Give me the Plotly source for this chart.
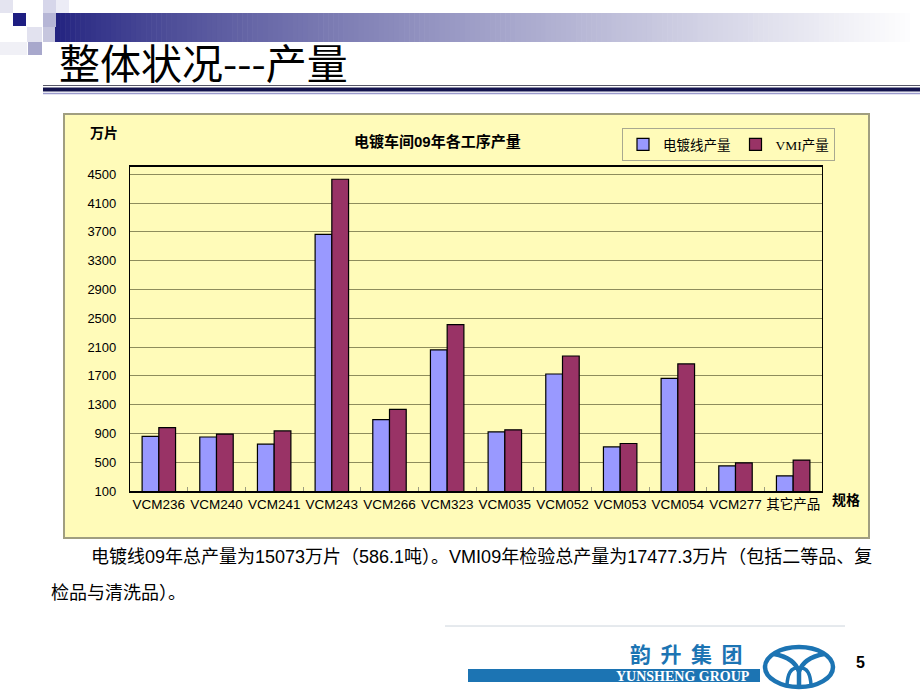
import plotly.graph_objects as go

categories = ["VCM236", "VCM240", "VCM241", "VCM243", "VCM266", "VCM323",
              "VCM035", "VCM052", "VCM053", "VCM054", "VCM277", "其它产品"]
line_output = [860, 850, 750, 3665, 1090, 2060, 920, 1725, 712, 1665, 448, 310]
vmi_output = [980, 890, 935, 4430, 1235, 2410, 950, 1975, 760, 1865, 490, 530]
y_ticks = [100, 500, 900, 1300, 1700, 2100, 2500, 2900, 3300, 3700, 4100, 4500]

W, H = 920, 690
def px(x): return x / W
def py(y): return 1 - y / H

CJK = "Liberation Sans, Arial, Noto Sans CJK SC"
YEL = "#FFFBB9"
BLUE_LOGO = "#1C74B3"

fig = go.Figure()
fig.add_trace(go.Bar(name="电镀线产量", x=categories, y=line_output,
                     marker=dict(color="#9999FF", line=dict(color="#000000", width=1.2))))
fig.add_trace(go.Bar(name="VMI产量", x=categories, y=vmi_output,
                     marker=dict(color="#993366", line=dict(color="#000000", width=1.2))))

shapes = []
shapes.append(dict(type="rect", xref="paper", yref="paper", layer="below",
                   x0=px(64), x1=px(869), y0=py(538), y1=py(114),
                   fillcolor=YEL, line=dict(color="#A09E80", width=2)))
N = 170
x_start, x_end = 55, 915
for i in range(N):
    t = i / (N - 1)
    g = t ** 0.8
    r = int(35 + (255 - 35) * g)
    gg = int(35 + (255 - 35) * g)
    b = int(128 + (255 - 128) * g)
    xa = x_start + (x_end - x_start) * i / N
    xb = x_start + (x_end - x_start) * (i + 1) / N + 0.6
    shapes.append(dict(type="rect", xref="paper", yref="paper", layer="below",
                       x0=px(xa), x1=px(xb), y0=py(42), y1=py(13),
                       fillcolor=f"rgb({r},{gg},{b})", line=dict(width=0)))
squares = [
    (0, 0, 13, 13, "#E4E4F0"), (13, 13, 26, 26, "#1E1E82"), (43, 0, 56, 13, "#D6D6EA"),
    (56, 0, 69, 13, "#ECECF6"), (43, 13, 56, 27, "#B6B6D6"), (27, 27, 42, 42, "#E2E2EF"),
    (28, 42, 42, 55, "#A8A8CC"), (0, 42, 27, 55, "#F0F0F6"), (43, 27, 55, 42, "#C6C6DE"),
]
for x0, y0, x1, y1, c in squares:
    shapes.append(dict(type="rect", xref="paper", yref="paper", layer="below",
                       x0=px(x0), x1=px(x1), y0=py(y1), y1=py(y0),
                       fillcolor=c, line=dict(width=0)))
shapes.append(dict(type="line", xref="paper", yref="paper", x0=px(43), x1=px(920),
                   y0=py(85.5), y1=py(85.5), line=dict(color="#555566", width=1)))
shapes.append(dict(type="rect", xref="paper", yref="paper", x0=px(43), x1=px(920),
                   y0=py(91.5), y1=py(87.5), fillcolor="#14144E", line=dict(width=0)))
shapes.append(dict(type="line", xref="paper", yref="paper", x0=px(43), x1=px(920),
                   y0=py(93.5), y1=py(93.5), line=dict(color="#9A9ACC", width=1.5)))
shapes.append(dict(type="line", xref="paper", yref="paper", x0=px(445), x1=px(845),
                   y0=py(626), y1=py(626), line=dict(color="#CCD4DC", width=1)))
shapes.append(dict(type="rect", xref="paper", yref="paper", x0=px(468), x1=px(760),
                   y0=py(682), y1=py(669), fillcolor=BLUE_LOGO, line=dict(width=0)))
shapes.append(dict(type="circle", xref="paper", yref="paper", x0=px(765), x1=px(833),
                   y0=py(687), y1=py(647), line=dict(color=BLUE_LOGO, width=4.5)))
shapes.append(dict(type="path", xref="paper", yref="paper",
                   path=f"M {px(774)} {py(654)} Q {px(795)} {py(658)} {px(799)} {py(672)} "
                        f"M {px(824)} {py(654)} Q {px(803)} {py(658)} {px(799)} {py(672)} "
                        f"L {px(799)} {py(686)}",
                   line=dict(color=BLUE_LOGO, width=4.5)))
shapes.append(dict(type="path", xref="paper", yref="paper",
                   path=f"M {px(787)} {py(685)} Q {px(788)} {py(668)} {px(797)} {py(668)} "
                        f"M {px(811)} {py(685)} Q {px(810)} {py(668)} {px(801)} {py(668)}",
                   line=dict(color=BLUE_LOGO, width=3.5)))

def ann(text, x, y, size, family=CJK, color="#000000", xanchor="center"):
    return dict(text=text, x=px(x), y=py(y), xref="paper", yref="paper",
                xanchor=xanchor, yanchor="middle", showarrow=False,
                font=dict(family=family, size=size, color=color))

annotations = [
    ann("整体状况---产量", 57, 61, 41, family="Noto Sans CJK SC", xanchor="left"),
    ann("<b>万片</b>", 104, 133, 14),
    ann("<b>电镀车间09年各工序产量</b>", 437, 142, 15),
    ann("<b>规格</b>", 846, 500, 14),
    ann("电镀线09年总产量为15073万片（586.1吨）。VMI09年检验总产量为17477.3万片（包括二等品、复",
        89, 557, 18, xanchor="left"),
    ann("检品与清洗品）。", 49, 593, 18, xanchor="left"),
    ann("<b>韵  升  集  团</b>", 686, 653, 21, family="Noto Sans CJK SC", color=BLUE_LOGO),
    ann("<b>YUNSHENG GROUP</b>", 752, 676, 14, family="Liberation Serif", color="#FFFFFF",
        xanchor="right"),
    ann("<b>5</b>", 860, 662, 16, family="Liberation Sans"),
]

fig.update_layout(
    width=W, height=H,
    margin=dict(l=0, r=0, t=0, b=0),
    paper_bgcolor="#FFFFFF",
    plot_bgcolor=YEL,
    barmode="group",
    bargap=0.42,
    bargroupgap=0,
    showlegend=True,
    legend=dict(orientation="h", x=px(622), y=py(128), xanchor="left", yanchor="top",
                bgcolor=YEL, bordercolor="#A8A890", borderwidth=1,
                font=dict(family="Liberation Serif, Noto Sans CJK SC", size=13.5, color="#000000"),
                itemwidth=30, traceorder="normal"),
    xaxis=dict(domain=[px(130), px(822)], type="category", categoryorder="array",
               categoryarray=categories, showline=True, linecolor="#000000", linewidth=1.5,
               mirror=True, ticks="inside", tickson="boundaries", ticklen=4,
               tickcolor="#9C9C80", showgrid=False, tickangle=0, automargin=False,
               tickfont=dict(family="Liberation Sans, Noto Sans CJK SC", size=13.5, color="#000000")),
    yaxis=dict(domain=[py(491), py(167)], range=[100, 4600], tickvals=y_ticks,
               showline=True, linecolor="#000000", linewidth=1.2, mirror=True,
               showgrid=True, gridcolor="#8E8C5C", gridwidth=1, zeroline=False,
               ticks="", ticklabelstandoff=10, automargin=False,
               tickfont=dict(family="Liberation Sans", size=13, color="#000000")),
    shapes=shapes,
    annotations=annotations,
)

fig.write_html("out.html")
